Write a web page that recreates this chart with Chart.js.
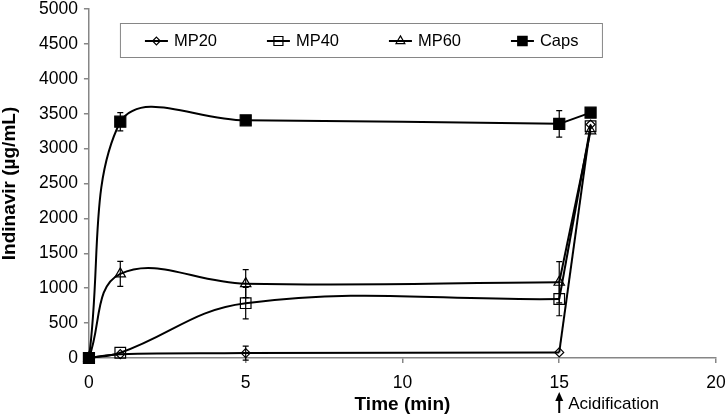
<!DOCTYPE html>
<html>
<head>
<meta charset="utf-8">
<script src="https://cdn.jsdelivr.net/npm/chart.js@4/dist/chart.umd.min.js"></script>
<style>
  html, body { margin: 0; padding: 0; background: #fff; }
  #wrap { width: 728px; height: 417px; position: relative; }
</style>
</head>
<body>
<div id="wrap"><canvas id="chart"></canvas></div>
<script>
// Data
const timePoints = [0, 1, 5, 15, 16];
const seriesNames = ['MP20', 'MP40', 'MP60', 'Caps'];
const mp20 = [0, 55, 70, 80, 3345];
const mp40 = [0, 75, 785, 845, 3320];
const mp60 = [0, 1205, 1065, 1085, 3255];
const caps = [0, 3385, 3405, 3355, 3515];
const mp20Err = [0, 0, 100, 0, 0];
const mp40Err = [0, 0, 225, 240, 0];
const mp60Err = [0, 180, 200, 295, 0];
const capsErr = [0, 130, 0, 190, 0];
const xTicks = [0, 5, 10, 15, 20];
const yTicks = [0, 500, 1000, 1500, 2000, 2500, 3000, 3500, 4000, 4500, 5000];
const acidTime = 15;
const acidLabel = 'Acidification';

const FONT = '"Liberation Sans", Arial, sans-serif';
const AXIS_GREY = '#868686';

const values = [mp20, mp40, mp60, caps];
const errors = [mp20Err, mp40Err, mp60Err, capsErr];
const markers = [
    { style: 'rectRot', radius: 4.5, fill: 'rgba(0,0,0,0)' },
    { style: 'rect', radius: 7.5, fill: 'rgba(0,0,0,0)' },
    { style: 'triangle', radius: 6, fill: 'rgba(0,0,0,0)' },
    { style: 'rect', radius: 7.8, fill: '#000' }
];

// smoothed part runs up to acidification, the jump after it is a straight segment
const cut = timePoints.indexOf(acidTime);
const datasets = [];
values.forEach((vals, i) => {
    const m = markers[i];
    const smooth = timePoints.slice(0, cut + 1).map((t, k) => ({ x: t, y: vals[k], err: errors[i][k] }));
    const jump = timePoints.slice(cut).map((t, k) => ({ x: t, y: vals[cut + k] }));
    const base = {
        borderColor: '#000', borderWidth: 2,
        pointStyle: m.style, pointBackgroundColor: m.fill, pointBorderColor: '#000',
        pointBorderWidth: 1.2, clip: false, fill: false
    };
    datasets.push(Object.assign({}, base, { label: seriesNames[i], data: smooth, tension: 0.4, pointRadius: m.radius, errorBars: true }));
    datasets.push(Object.assign({}, base, { label: seriesNames[i] + ' jump', data: jump, tension: 0, pointRadius: [0, m.radius] }));
});

function marker(ctx, style, x, y, r) {
    ctx.beginPath();
    if (style === 'rect') {
        const s = r * Math.SQRT1_2;
        ctx.rect(x - s, y - s, 2 * s, 2 * s);
    } else if (style === 'rectRot') {
        ctx.moveTo(x, y - r); ctx.lineTo(x + r, y); ctx.lineTo(x, y + r); ctx.lineTo(x - r, y); ctx.closePath();
    } else {
        ctx.moveTo(x, y - r);
        ctx.lineTo(x + r * Math.sin(2 * Math.PI / 3), y - r * Math.cos(2 * Math.PI / 3));
        ctx.lineTo(x + r * Math.sin(4 * Math.PI / 3), y - r * Math.cos(4 * Math.PI / 3));
        ctx.closePath();
    }
    ctx.fill();
    ctx.stroke();
}

const errorBarPlugin = {
    id: 'errorBars',
    beforeDatasetsDraw(chart) {
        const { ctx, scales } = chart;
        ctx.save();
        ctx.strokeStyle = '#000';
        ctx.lineWidth = 1.2;
        chart.data.datasets.forEach(ds => {
            if (!ds.errorBars) return;
            ds.data.forEach(p => {
                if (!p.err) return;
                const x = scales.x.getPixelForValue(p.x);
                const y1 = scales.y.getPixelForValue(p.y + p.err);
                const y2 = scales.y.getPixelForValue(p.y - p.err);
                ctx.beginPath();
                ctx.moveTo(x, y1); ctx.lineTo(x, y2);
                ctx.moveTo(x - 3, y1); ctx.lineTo(x + 3, y1);
                ctx.moveTo(x - 3, y2); ctx.lineTo(x + 3, y2);
                ctx.stroke();
            });
        });
        ctx.restore();
    }
};

const legendBoxPlugin = {
    id: 'legendBox',
    afterDraw(chart) {
        const { ctx, chartArea } = chart;
        const left = chartArea.left + 31, top = chartArea.top + 14, w = 482, h = 34;
        ctx.save();
        ctx.fillStyle = '#fff';
        ctx.fillRect(left, top, w, h);
        ctx.strokeStyle = AXIS_GREY;
        ctx.lineWidth = 1;
        ctx.strokeRect(left + 0.5, top + 0.5, w, h);
        ctx.font = '16.5px ' + FONT;
        ctx.textBaseline = 'middle';
        seriesNames.forEach((name, i) => {
            const x0 = left + 25 + i * 122;
            const cy = top + h / 2 + 1;
            ctx.strokeStyle = '#000';
            ctx.lineWidth = 2;
            ctx.beginPath(); ctx.moveTo(x0, cy); ctx.lineTo(x0 + 23, cy); ctx.stroke();
            ctx.lineWidth = 1.2;
            ctx.fillStyle = markers[i].fill;
            marker(ctx, markers[i].style, x0 + 11.5, cy, markers[i].radius * 0.85);
            ctx.fillStyle = '#000';
            ctx.fillText(name, x0 + 29, cy);
        });
        ctx.restore();
    }
};

const acidPlugin = {
    id: 'acidification',
    afterDraw(chart) {
        const { ctx } = chart;
        const x = chart.scales.x.getPixelForValue(acidTime);
        ctx.save();
        ctx.strokeStyle = '#000';
        ctx.fillStyle = '#000';
        ctx.lineWidth = 2;
        ctx.beginPath(); ctx.moveTo(x, 413); ctx.lineTo(x, 399); ctx.stroke();
        ctx.beginPath(); ctx.moveTo(x, 392); ctx.lineTo(x + 4, 401); ctx.lineTo(x - 4, 401); ctx.closePath(); ctx.fill();
        ctx.font = '17px ' + FONT;
        ctx.textBaseline = 'middle';
        ctx.fillText(acidLabel, x + 9, 404);
        ctx.restore();
    }
};

new Chart(document.getElementById('chart'), {
    type: 'line',
    data: { datasets: datasets },
    plugins: [errorBarPlugin, legendBoxPlugin, acidPlugin],
    options: {
        responsive: true,
        maintainAspectRatio: false,
        animation: false,
        events: [],
        layout: { padding: 0 },
        plugins: { legend: { display: false }, tooltip: { enabled: false } },
        scales: {
            x: {
                type: 'linear', min: 0, max: 20,
                afterBuildTicks: s => { s.ticks = xTicks.map(v => ({ value: v })); },
                afterFit: s => { s.paddingRight = 12; },
                grid: { drawOnChartArea: false, tickLength: 5, color: AXIS_GREY, lineWidth: 1.5 },
                border: { color: AXIS_GREY, width: 1.5 },
                ticks: { color: '#000', font: { size: 17.5, family: FONT, lineHeight: 1 }, padding: 11, maxRotation: 0, callback: v => String(v) },
                title: { display: true, text: 'Time (min)', color: '#000', font: { size: 19, weight: 'bold', family: FONT, lineHeight: 1 }, padding: { top: -7, bottom: 2.5 } }
            },
            y: {
                type: 'linear', min: 0, max: 5000,
                afterBuildTicks: s => { s.ticks = yTicks.map(v => ({ value: v })); },
                afterFit: s => { s.paddingTop = 4; },
                grid: { drawOnChartArea: false, tickLength: 5, color: AXIS_GREY, lineWidth: 1.5 },
                border: { color: AXIS_GREY, width: 1.5 },
                ticks: { color: '#000', font: { size: 17.5, family: FONT }, padding: 6, callback: v => String(v) },
                title: { display: true, text: 'Indinavir (µg/mL)', color: '#000', font: { size: 19, weight: 'bold', family: FONT, lineHeight: 1 }, padding: { top: 0, bottom: 14 } }
            }
        }
    }
});
</script>
</body>
</html>
